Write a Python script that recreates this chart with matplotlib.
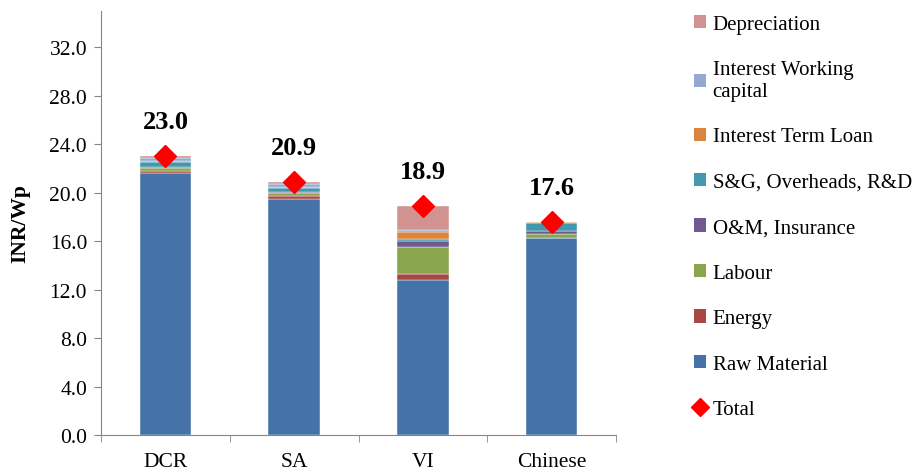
import numpy as np
import matplotlib
matplotlib.use('Agg')
import matplotlib.pyplot as plt
from matplotlib.patches import Patch
from matplotlib.lines import Line2D

plt.rcParams['font.family'] = ['Liberation Serif', 'DejaVu Serif']

categories = ['DCR', 'SA', 'VI', 'Chinese']
raw_material = [21.60, 19.50, 12.80, 16.25]
energy = [0.20, 0.20, 0.45, 0.05]
labour = [0.25, 0.25, 2.30, 0.30]
om_insurance = [0.10, 0.10, 0.45, 0.25]
sg_overheads = [0.40, 0.35, 0.20, 0.65]
interest_term = [0.10, 0.10, 0.55, 0.10]
interest_wc = [0.20, 0.20, 0.15, 0.02]
depreciation = [0.15, 0.20, 2.00, 0.00]
totals = [23.0, 20.9, 18.9, 17.6]

series = [
	('Raw Material', raw_material, '#4572A7'),
	('Energy', energy, '#AA4643'),
	('Labour', labour, '#89A54E'),
	('O&M, Insurance', om_insurance, '#71588F'),
	('S&G, Overheads, R&D', sg_overheads, '#4198AF'),
	('Interest Term Loan', interest_term, '#DB843D'),
	('Interest Working\ncapital', interest_wc, '#93A9CF'),
	('Depreciation', depreciation, '#D19392'),
]

fig = plt.figure(figsize=(9.21, 4.77), dpi=100)
ax = fig.add_axes([101/921, 41/477, 515/921, 424/477])

x = np.arange(len(categories))
bottom = np.zeros(len(categories))
handles = []
for name, vals, col in series:
	ax.bar(x, vals, width=0.4, bottom=bottom, color=col, edgecolor='white', linewidth=0.3)
	bottom += np.array(vals)
	handles.append(Patch(facecolor=col, label=name))

ax.plot(x, totals, linestyle='none', marker='D', color='red', markersize=11)
for xi, t in zip(x, totals):
	ax.annotate('%.1f' % t, (xi, t), xytext=(0, 25), textcoords='offset points',
		ha='center', va='center', fontsize=19, fontweight='bold')

ax.set_xlim(-0.5, 3.5)
ax.set_ylim(0, 35)
ax.set_yticks(np.arange(0, 33, 4))
ax.set_yticklabels(['%.1f' % v for v in np.arange(0, 33, 4)], fontsize=15.5)
ax.set_xticks(x)
ax.set_xticklabels(categories, fontsize=15.5)
ax.set_xticks(np.arange(-0.5, 4, 1), minor=True)
ax.tick_params(axis='x', which='major', length=0, pad=12)
ax.tick_params(axis='x', which='minor', length=5, color='#868686')
ax.tick_params(axis='y', length=5, color='#868686', direction='out', pad=5)
ax.set_ylabel('INR/Wp', fontsize=15.5, fontweight='bold', labelpad=14)
for s in ['top', 'right']:
	ax.spines[s].set_visible(False)
for s in ['left', 'bottom']:
	ax.spines[s].set_color('#868686')

handles = handles[::-1]
handles.append(Line2D([], [], linestyle='none', marker='D', color='red', markersize=9, label='Total'))
fig.legend(handles=handles, loc='upper left', bbox_to_anchor=(675/921, 1 + 3/477), frameon=False,
	fontsize=15, handlelength=0.6, handleheight=0.6, handletextpad=0.3, labelspacing=1.27)

fig.savefig('out.png', dpi=100)
